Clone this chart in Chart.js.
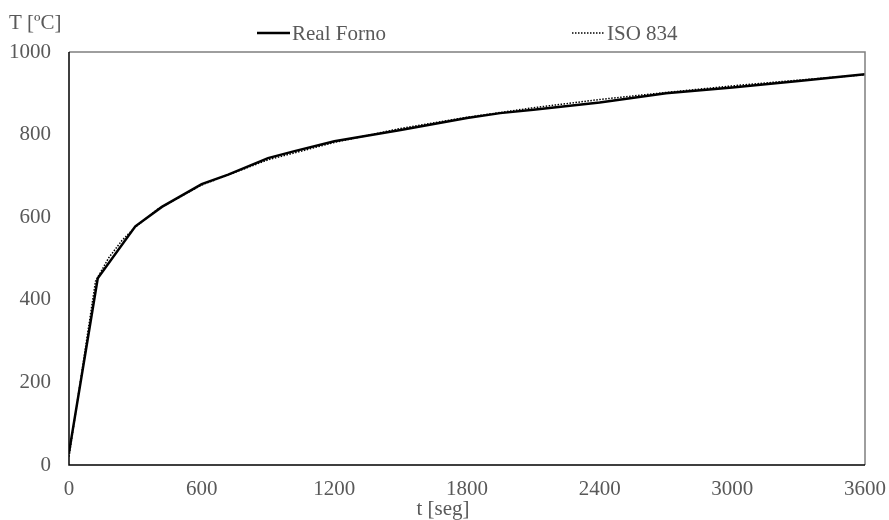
<!DOCTYPE html>
<html>
<head>
<meta charset="utf-8">
<script src="https://cdn.jsdelivr.net/npm/chart.js@4"></script>
<style>
  body { margin: 0; background: #fff; }
  .wrap { width: 889px; height: 520px; position: relative; }
</style>
</head>
<body>
<div class="wrap"><canvas class="temp-chart"></canvas></div>
<script>
// Real furnace curve (t in s, T in ºC)
const realTime = [0, 130, 300, 420, 600, 720, 900, 1020, 1200, 1500, 1800, 1950, 2100, 2400, 2700, 3000, 3300, 3600];
const realTemp = [30, 452, 578, 625, 680, 703, 743, 760, 784, 811, 840, 852, 860, 878, 900, 914, 930, 946];

// ISO 834 standard curve
const isoTime = [0, 120, 180, 240, 300, 400, 600, 900, 1200, 1500, 1800, 2100, 2400, 2700, 3000, 3300, 3600];
const isoTemp = [20, 445, 502, 544, 576, 619, 678, 739, 781, 815, 842, 865, 885, 902, 918, 932, 945];

const xTicks = [0, 600, 1200, 1800, 2400, 3000, 3600];
const yTicks = [0, 200, 400, 600, 800, 1000];
const seriesNames = ["Real Forno", "ISO 834"];

const toPoints = (xs, ys) => xs.map((x, i) => ({ x: x, y: ys[i] }));

const textColor = "#595959";
const fontFamily = "'Liberation Serif', 'Times New Roman', serif";
const fontSize = 21;

// frame, axis titles and legend drawn by hand to match the layout
const decorations = {
    id: "decorations",
    afterDraw(chart) {
        const { ctx, chartArea: a } = chart;
        ctx.save();
        ctx.strokeStyle = "#7f7f7f";
        ctx.lineWidth = 1.5;
        ctx.beginPath();
        ctx.moveTo(a.left, a.top);
        ctx.lineTo(a.right, a.top);
        ctx.lineTo(a.right, a.bottom);
        ctx.stroke();
        ctx.strokeStyle = "#000";
        ctx.beginPath();
        ctx.moveTo(a.left, a.top);
        ctx.lineTo(a.left, a.bottom);
        ctx.lineTo(a.right, a.bottom);
        ctx.stroke();

        ctx.fillStyle = textColor;
        ctx.font = fontSize + "px " + fontFamily;
        ctx.textBaseline = "alphabetic";
        ctx.textAlign = "left";
        ctx.fillText("T [ºC]", 9, 29);
        ctx.textAlign = "center";
        ctx.fillText("t [seg]", 443, 515);

        // legend
        ctx.textAlign = "left";
        ctx.strokeStyle = "#000";
        ctx.lineWidth = 2.5;
        ctx.beginPath();
        ctx.moveTo(257, 33);
        ctx.lineTo(290, 33);
        ctx.stroke();
        ctx.fillText(seriesNames[0], 292, 40);

        ctx.lineWidth = 1.5;
        ctx.setLineDash([1.5, 1.5]);
        ctx.beginPath();
        ctx.moveTo(572, 33);
        ctx.lineTo(605, 33);
        ctx.stroke();
        ctx.setLineDash([]);
        ctx.fillText(seriesNames[1], 607, 40);
        ctx.restore();
    },
};

const plainTick = (v) => String(v);

new Chart(document.querySelector(".temp-chart"), {
    type: "line",
    data: {
        datasets: [
            {
                label: seriesNames[0],
                data: toPoints(realTime, realTemp),
                borderColor: "#000",
                borderWidth: 2.5,
                pointRadius: 0,
                tension: 0,
            },
            {
                label: seriesNames[1],
                data: toPoints(isoTime, isoTemp),
                borderColor: "#000",
                borderWidth: 1.5,
                borderDash: [1.5, 1.5],
                pointRadius: 0,
                tension: 0,
            },
        ],
    },
    options: {
        responsive: true,
        maintainAspectRatio: false,
        animation: false,
        layout: {
            padding: { top: 52, right: 24, bottom: 0, left: 0 },
        },
        scales: {
            x: {
                type: "linear",
                min: 0,
                max: 3600,
                afterBuildTicks: (s) => { s.ticks = xTicks.map((v) => ({ value: v })); },
                afterFit: (s) => {
                    s.height = 55;
                    s.paddingLeft = 0;
                    s.paddingRight = 0;
                },
                grid: { display: false, drawTicks: false },
                border: { display: false },
                ticks: {
                    padding: 12,
                    maxRotation: 0,
                    color: textColor,
                    font: { family: fontFamily, size: fontSize },
                    callback: plainTick,
                },
            },
            y: {
                min: 0,
                max: 1000,
                afterBuildTicks: (s) => { s.ticks = yTicks.map((v) => ({ value: v })); },
                afterFit: (s) => {
                    s.width = 69;
                    s.paddingTop = 0;
                    s.paddingBottom = 0;
                },
                grid: { display: false, drawTicks: false },
                border: { display: false },
                ticks: {
                    padding: 18,
                    color: textColor,
                    font: { family: fontFamily, size: fontSize },
                    callback: plainTick,
                },
            },
        },
        plugins: {
            legend: { display: false },
            tooltip: { enabled: false },
        },
    },
    plugins: [decorations],
});
</script>
</body>
</html>
